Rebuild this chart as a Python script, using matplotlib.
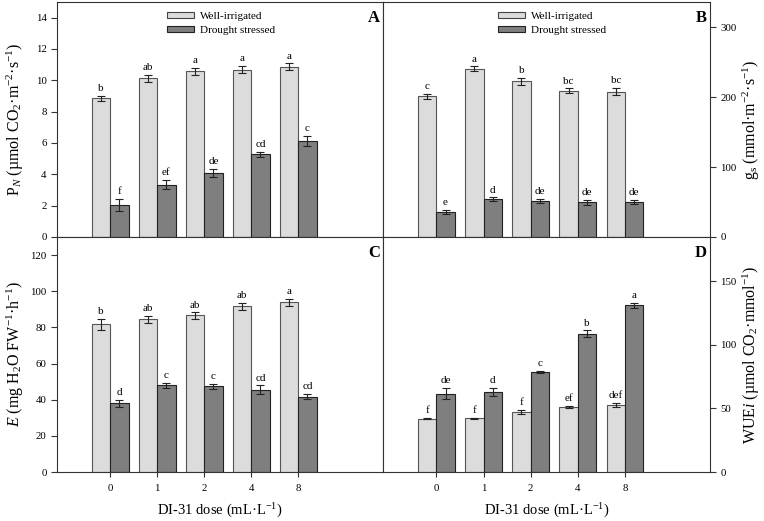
import matplotlib
matplotlib.use("Agg")
import matplotlib.pyplot as plt
import numpy as np
from matplotlib.patches import Patch

plt.rcParams['font.family'] = ['Liberation Serif', 'DejaVu Serif']
plt.rcParams['mathtext.fontset'] = 'custom'
plt.rcParams['mathtext.rm'] = 'Liberation Serif'
plt.rcParams['mathtext.it'] = 'Liberation Serif:italic'
plt.rcParams['mathtext.bf'] = 'Liberation Serif:bold'

doses = ['0', '1', '2', '4', '8']

pn_well = [8.85, 10.12, 10.57, 10.69, 10.88]
pn_well_err = [0.17, 0.25, 0.24, 0.25, 0.2]
pn_dry = [2.05, 3.35, 4.07, 5.28, 6.12]
pn_dry_err = [0.4, 0.31, 0.27, 0.16, 0.34]
pn_well_lab = ['b', 'ab', 'a', 'a', 'a']
pn_dry_lab = ['f', 'ef', 'de', 'cd', 'c']

gs_well = [201, 240.5, 222.5, 209, 208]
gs_well_err = [4, 3.3, 5, 3.6, 5]
gs_dry = [35.7, 53.7, 51.8, 49.5, 49.9]
gs_dry_err = [2.6, 2.9, 3, 3.3, 3]
gs_well_lab = ['c', 'a', 'b', 'bc', 'bc']
gs_dry_lab = ['e', 'd', 'de', 'de', 'de']

e_well = [81.8, 84.4, 86.6, 91.6, 93.8]
e_well_err = [3.1, 1.9, 1.7, 2.0, 2.1]
e_dry = [37.9, 47.9, 47.3, 45.6, 41.6]
e_dry_err = [2.1, 1.4, 1.6, 2.3, 1.4]
e_well_lab = ['b', 'ab', 'ab', 'ab', 'a']
e_dry_lab = ['d', 'c', 'c', 'cd', 'cd']

wue_well = [42.1, 42.4, 47.4, 51.1, 52.9]
wue_well_err = [0.7, 0.5, 1.4, 1.0, 1.8]
wue_dry = [61.6, 63.2, 78.9, 108.9, 131.3]
wue_dry_err = [4.5, 3.3, 0.8, 2.5, 2.0]
wue_well_lab = ['f', 'f', 'f', 'ef', 'def']
wue_dry_lab = ['de', 'd', 'c', 'b', 'a']

light = '#dcdcdc'
dark = '#7f7f7f'
w = 0.39

fig = plt.figure(figsize=(7.64, 5.21), dpi=100)
L1, W1 = 57/764, 326/764
L2, W2 = 383/764, 327/764
B1, H = 1-237/521, 235/521
B2 = 1-472/521

axA = fig.add_axes([L1, B1, W1, H])
axB = fig.add_axes([L2, B1, W2, H])
axC = fig.add_axes([L1, B2, W1, H])
axD = fig.add_axes([L2, B2, W2, H])

x = np.arange(len(doses))

def draw(ax, well, well_err, dry, dry_err, wl, dl):
    ax.bar(x - w/2, well, w, color=light, edgecolor='#555555', linewidth=0.8, zorder=2)
    ax.bar(x + w/2, dry, w, color=dark, edgecolor='#222222', linewidth=0.8, zorder=2)
    ax.errorbar(x - w/2, well, yerr=well_err, fmt='none', ecolor='#222222', elinewidth=0.8, capsize=3, capthick=0.8, zorder=3)
    ax.errorbar(x + w/2, dry, yerr=dry_err, fmt='none', ecolor='#222222', elinewidth=0.8, capsize=3, capthick=0.8, zorder=3)
    for xi, v, e, t in zip(x - w/2, well, well_err, wl):
        ax.annotate(t, (xi, v + e), xytext=(0, 2), textcoords='offset points', ha='center', va='bottom', fontsize=8)
    for xi, v, e, t in zip(x + w/2, dry, dry_err, dl):
        ax.annotate(t, (xi, v + e), xytext=(0, 2), textcoords='offset points', ha='center', va='bottom', fontsize=8)
    for s in ax.spines.values():
        s.set_color('#333333')
        s.set_linewidth(0.8)
    ax.set_xlim(-1.13, 5.8)

draw(axA, pn_well, pn_well_err, pn_dry, pn_dry_err, pn_well_lab, pn_dry_lab)
draw(axB, gs_well, gs_well_err, gs_dry, gs_dry_err, gs_well_lab, gs_dry_lab)
draw(axC, e_well, e_well_err, e_dry, e_dry_err, e_well_lab, e_dry_lab)
draw(axD, wue_well, wue_well_err, wue_dry, wue_dry_err, wue_well_lab, wue_dry_lab)

axA.set_ylim(0, 15)
axA.set_yticks(np.arange(0, 15, 2))
axB.set_ylim(0, 336)
axB.set_yticks([0, 100, 200, 300])
axC.set_ylim(0, 130)
axC.set_yticks(np.arange(0, 121, 20))
axD.set_ylim(0, 185)
axD.set_yticks([0, 50, 100, 150])

for ax in (axA, axB):
    ax.tick_params(axis='x', bottom=False, labelbottom=False)
for ax in (axC, axD):
    ax.set_xticks(x)
    ax.set_xticklabels(doses)
    ax.tick_params(axis='x', direction='out', length=3.5, width=0.8, labelsize=7.8, pad=5, color='#333333')
    ax.set_xlabel('DI-31 dose (mL·L$^{-1}$)', fontsize=10.5)
    ax.xaxis.set_label_coords(0.5, -0.125)

for ax in (axA, axC):
    ax.tick_params(axis='y', direction='out', length=4, width=0.8, labelsize=7.8, color='#333333')
for ax in (axB, axD):
    ax.yaxis.tick_right()
    ax.yaxis.set_label_position('right')
    ax.tick_params(axis='y', direction='out', length=4, width=0.8, labelsize=7.8, color='#333333')

axA.set_ylabel('P$_{\\mathit{N}}$ (µmol CO$_2$·m$^{-2}$·s$^{-1}$)', fontsize=11.5)
axB.set_ylabel('g$_\\mathrm{s}$ (mmol·m$^{-2}$·s$^{-1}$)', fontsize=11.5, rotation=90)
axC.set_ylabel('$\\mathit{E}$ (mg H$_2$O FW$^{-1}$·h$^{-1}$)', fontsize=11.5)
axD.set_ylabel('WUE$\\mathit{i}$ (µmol CO$_2$·mmol$^{-1}$)', fontsize=11.5, rotation=90)
for ax in (axA, axC):
    ax.yaxis.set_label_coords(-0.096, 0.5)
for ax in (axB, axD):
    ax.yaxis.set_label_coords(1.093, 0.5)

for ax, lab in ((axA, 'A'), (axB, 'B'), (axC, 'C'), (axD, 'D')):
    ax.text(0.99, 0.965, lab, transform=ax.transAxes, ha='right', va='top', fontsize=12, fontweight='bold')

handles = [Patch(facecolor=light, edgecolor='#444444', linewidth=0.8, label='Well-irrigated'),
           Patch(facecolor=dark, edgecolor='#222222', linewidth=0.8, label='Drought stressed')]
for ax, xa in ((axA, 0.337), (axB, 0.352)):
    ax.legend(handles=handles, loc='upper left', bbox_to_anchor=(xa, 0.958), frameon=False,
              fontsize=8, handlelength=2.4, handleheight=0.5, labelspacing=0.42, handletextpad=0.55,
              borderpad=0, borderaxespad=0)

fig.savefig('out.png', dpi=100)
